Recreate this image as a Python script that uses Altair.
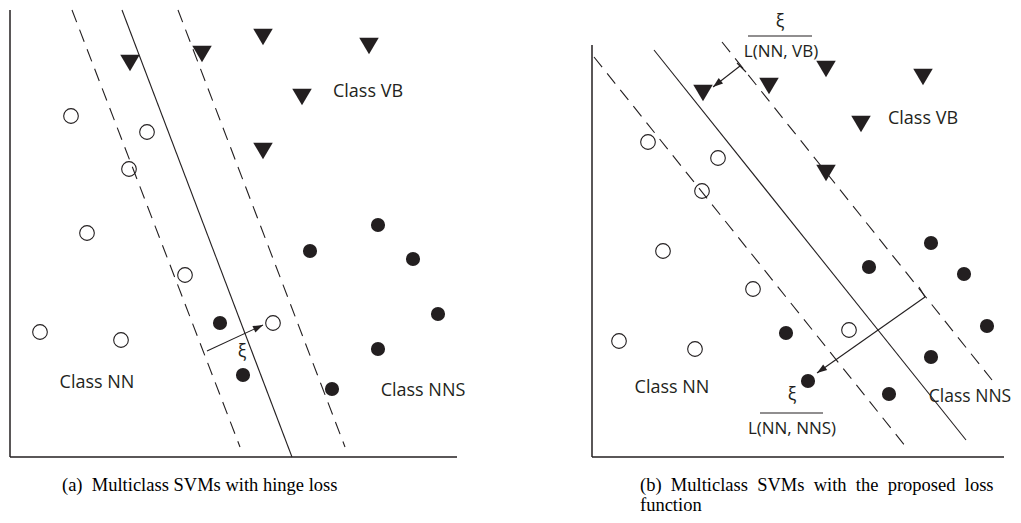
import altair as alt
import pandas as pd
import numpy as np

# ---- data (page pixel coordinates) ----
# Panel (a)
a_vb_x = [130, 202, 263, 369, 302, 263]
a_vb_y = [63, 54, 37, 46, 97, 151]
a_nn_x = [71, 147, 129, 87, 185, 40, 121, 273]
a_nn_y = [116, 132, 169, 233, 275, 332, 340, 323]
a_nns_x = [378, 310, 413, 438, 378, 332, 220, 243]
a_nns_y = [225, 251, 259, 314, 349, 389, 323, 375]
# Panel (b)
b_vb_x = [703, 769, 826, 923, 861, 826]
b_vb_y = [93, 86, 69, 77, 124, 173]
b_nn_x = [648, 718, 702, 663, 753, 619, 695, 849]
b_nn_y = [142, 158, 191, 251, 289, 341, 349, 330]
b_nns_x = [931, 869, 964, 987, 931, 889, 786, 808]
b_nns_y = [243, 267, 274, 326, 357, 394, 333, 381]

# lines: x1, y1, x2, y2, style
line_x1 = [10, 10, 122, 72, 178, 592, 592, 654, 594, 722]
line_y1 = [10, 457, 10, 10, 10, 45, 457, 50, 57, 42]
line_x2 = [10, 457, 292, 240, 345, 592, 1004, 966, 906, 992]
line_y2 = [457, 457, 457, 447, 447, 457, 457, 440, 447, 380]
line_kind = ["axis", "axis", "solid", "dash", "dash", "axis", "axis", "solid", "dash", "dash"]

# arrows: start -> tip
arr_x1 = [207, 740, 925]
arr_y1 = [351, 66, 297]
arr_x2 = [263, 713, 817]
arr_y2 = [325, 87, 373]
# small bracket ticks at arrow starts (panel b)
tick_x1 = [737, 919]
tick_y1 = [63, 287]
tick_x2 = [746, 925]
tick_y2 = [72, 297]
# fraction bars
bar_x1 = [748, 760]
bar_x2 = [812, 823]
bar_y = [36, 413]

# labels
lab_text = ["Class VB", "Class NN", "Class NNS", "ξ",
            "Class VB", "Class NN", "Class NNS",
            "ξ", "L(NN, VB)", "ξ", "L(NN, NNS)"]
lab_x = [368, 97, 423, 242, 923, 672, 970, 780, 781, 792, 792]
lab_y = [92, 383, 391, 352, 119, 388, 397, 22, 52, 395, 429]
lab_size = [18, 18, 18, 18, 18, 18, 17.5, 18, 17, 18, 17]

S = "\u00a0"
cap_text = ["(a)" + S + S + "Multiclass SVMs with hinge loss",
            "(b)" + S + S + S.join(["Multiclass", "SVMs", "with", "the", "proposed", "loss"]).replace(S, S + " "),
            "function"]
cap_x = [62, 640, 640]
cap_y = [491, 491, 511]

# ---- build tables ----
pts = pd.DataFrame({
    "x": a_vb_x + b_vb_x + a_nn_x + b_nn_x + a_nns_x + b_nns_x,
    "y": a_vb_y + b_vb_y + a_nn_y + b_nn_y + a_nns_y + b_nns_y,
    "cls": ["VB"] * 12 + ["NN"] * 16 + ["NNS"] * 16,
})
lines = pd.DataFrame({"x": line_x1, "y": line_y1, "x2": line_x2, "y2": line_y2, "kind": line_kind})
arrows = pd.DataFrame({"x": arr_x1, "y": arr_y1, "x2": arr_x2, "y2": arr_y2})
dx = arrows["x2"] - arrows["x"]
dy = arrows["y2"] - arrows["y"]
arrows["angle"] = (np.degrees(np.arctan2(dx, -dy)) + 360) % 360
ticks = pd.DataFrame({"x": tick_x1, "y": tick_y1, "x2": tick_x2, "y2": tick_y2})
bars = pd.DataFrame({"x": bar_x1, "x2": bar_x2, "y": bar_y})
labels = pd.DataFrame({"x": lab_x, "y": lab_y, "t": lab_text, "s": lab_size})
caps = pd.DataFrame({"x": cap_x, "y": cap_y, "t": cap_text})

X = alt.Scale(domain=[8, 1013])
Y = alt.Scale(domain=[8, 515], reverse=True)
ink = "#231f20"

def xe(f="x"):
    return alt.X(f"{f}:Q", scale=X, axis=None)

def ye(f="y"):
    return alt.Y(f"{f}:Q", scale=Y, axis=None)

axis_lines = alt.Chart(lines).transform_filter("datum.kind == 'axis'").mark_rule(
    color=ink, strokeWidth=1.5).encode(x=xe(), y=ye(), x2="x2:Q", y2="y2:Q")
solid_lines = alt.Chart(lines).transform_filter("datum.kind == 'solid'").mark_rule(
    color=ink, strokeWidth=1.1).encode(x=xe(), y=ye(), x2="x2:Q", y2="y2:Q")
dash_lines = alt.Chart(lines).transform_filter("datum.kind == 'dash'").mark_rule(
    color=ink, strokeWidth=1.1, strokeDash=[13, 8]).encode(x=xe(), y=ye(), x2="x2:Q", y2="y2:Q")

tri = alt.Chart(pts).transform_filter("datum.cls == 'VB'").mark_point(
    shape="M-1,-0.84L1,-0.84L0,0.84Z", size=380, filled=True, color=ink, opacity=1
).encode(x=xe(), y=ye())
open_c = alt.Chart(pts).transform_filter("datum.cls == 'NN'").mark_point(
    shape="circle", size=215, filled=False, color=ink, strokeWidth=1.1, opacity=1
).encode(x=xe(), y=ye())
fill_c = alt.Chart(pts).transform_filter("datum.cls == 'NNS'").mark_point(
    shape="circle", size=200, filled=True, color=ink, opacity=1
).encode(x=xe(), y=ye())

arrow_lines = alt.Chart(arrows).mark_rule(color=ink, strokeWidth=1.1).encode(
    x=xe(), y=ye(), x2="x2:Q", y2="y2:Q")
arrow_heads = alt.Chart(arrows).mark_point(
    shape="M0,0L0.7,2L-0.7,2Z", size=100, filled=True, color=ink, opacity=1
).encode(x=xe("x2"), y=ye("y2"), angle=alt.Angle("angle:Q", scale=None))
tick_marks = alt.Chart(ticks).mark_rule(color=ink, strokeWidth=1.1).encode(
    x=xe(), y=ye(), x2="x2:Q", y2="y2:Q")
bar_marks = alt.Chart(bars).mark_rule(color=ink, strokeWidth=1.1).encode(
    x=xe(), y=ye(), x2="x2:Q")

label_marks = alt.Chart(labels).mark_text(
    font="Open Sans", color=ink, align="center", baseline="middle"
).encode(x=xe(), y=ye(), text="t:N", size=alt.Size("s:Q", scale=None))
cap_marks = alt.Chart(caps).mark_text(
    font="Liberation Serif", fontSize=18.5, color="#000000", align="left", baseline="alphabetic"
).encode(x=xe(), y=ye(), text="t:N")

chart = alt.layer(
    axis_lines, dash_lines, solid_lines, tri, open_c, fill_c,
    arrow_lines, arrow_heads, tick_marks, bar_marks, label_marks, cap_marks
).properties(
    width=1005, height=507, padding=0, autosize=alt.AutoSizeParams(type="none"),
    background="white"
).configure_view(stroke=None)

chart.save("out.html", embed_options={"renderer": "svg", "actions": False})
